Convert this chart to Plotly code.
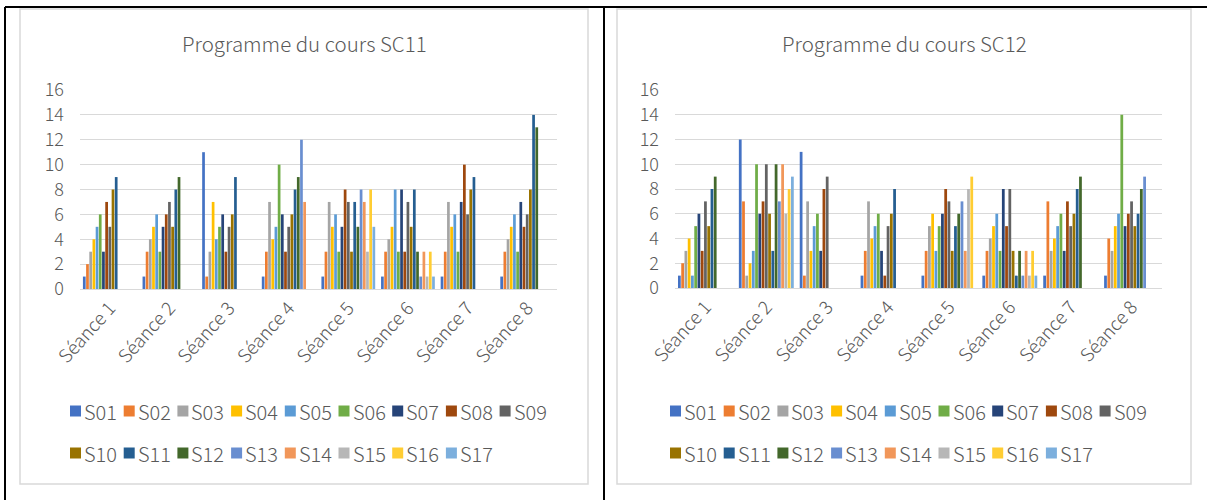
import plotly.graph_objects as go

W, H = 1207, 500

seances = ["Séance 1", "Séance 2", "Séance 3", "Séance 4",
           "Séance 5", "Séance 6", "Séance 7", "Séance 8"]
series = ["S01", "S02", "S03", "S04", "S05", "S06", "S07", "S08", "S09",
          "S10", "S11", "S12", "S13", "S14", "S15", "S16", "S17"]
colors = ["#4472C4", "#ED7D31", "#A5A5A5", "#FFC000", "#5B9BD5", "#70AD47",
          "#264478", "#9E480E", "#636363", "#997300", "#255E91", "#43682B",
          "#698ED0", "#F1975A", "#B7B7B7", "#FFCD33", "#7CAFDD"]
y_ticks = [0, 2, 4, 6, 8, 10, 12, 14, 16]

# one row per séance, one value per student S01..S17
sc11 = [
    [1, 2, 3, 4, 5, 6, 3, 7, 5, 8, 9, 0, 0, 0, 0, 0, 0],
    [1, 3, 4, 5, 6, 3, 5, 6, 7, 5, 8, 9, 0, 0, 0, 0, 0],
    [11, 1, 3, 7, 4, 5, 6, 3, 5, 6, 9, 0, 0, 0, 0, 0, 0],
    [1, 3, 7, 4, 5, 10, 6, 3, 5, 6, 8, 9, 12, 7, 0, 0, 0],
    [1, 3, 7, 5, 6, 3, 5, 8, 7, 3, 7, 5, 8, 7, 3, 8, 5],
    [1, 3, 4, 5, 8, 3, 8, 3, 7, 5, 8, 3, 1, 3, 1, 3, 1],
    [1, 3, 7, 5, 6, 3, 7, 10, 6, 8, 9, 0, 0, 0, 0, 0, 0],
    [1, 3, 4, 5, 6, 3, 7, 5, 6, 8, 14, 13, 0, 0, 0, 0, 0],
]
sc12 = [
    [1, 2, 3, 4, 1, 5, 6, 3, 7, 5, 8, 9, 0, 0, 0, 0, 0],
    [12, 7, 1, 2, 3, 10, 6, 7, 10, 6, 3, 10, 7, 10, 6, 8, 9],
    [11, 1, 7, 3, 5, 6, 3, 8, 9, 0, 0, 0, 0, 0, 0, 0, 0],
    [1, 3, 7, 4, 5, 6, 3, 1, 5, 6, 8, 0, 0, 0, 0, 0, 0],
    [1, 3, 5, 6, 3, 5, 6, 8, 7, 3, 5, 6, 7, 3, 8, 9, 0],
    [1, 3, 4, 5, 6, 3, 8, 5, 8, 3, 1, 3, 1, 3, 1, 3, 1],
    [1, 7, 3, 4, 5, 6, 3, 7, 5, 6, 8, 9, 0, 0, 0, 0, 0],
    [1, 4, 3, 5, 6, 14, 5, 6, 7, 5, 6, 8, 9, 0, 0, 0, 0],
]
titles = ["Programme du cours SC11", "Programme du cours SC12"]

FONT = "Noto Sans CJK SC, Noto Sans, sans-serif"
TXT = "#595959"
GRID = "#D9D9D9"


def px(x):
    return x / W


def py(y):
    return 1 - y / H


# pixel layout of each chart: frame box, plot area, legend origin
panels = [
    dict(frame=(20, 9, 588, 484), plot=(80, 90, 557, 289), legend_x=70),
    dict(frame=(617, 9, 1191, 484), plot=(675, 90, 1162, 288), legend_x=670),
]

fig = go.Figure()
shapes = []
annotations = []

for k, (data, title, pnl) in enumerate(zip([sc11, sc12], titles, panels)):
    xa = "x" if k == 0 else "x2"
    ya = "y" if k == 0 else "y2"
    for j, name in enumerate(series):
        fig.add_trace(go.Bar(
            x=seances, y=[row[j] for row in data], name=name,
            marker=dict(color=colors[j], line=dict(width=0)),
            xaxis=xa, yaxis=ya, showlegend=False,
        ))
    l, t, r, b = pnl["plot"]
    axis_x = dict(domain=[px(l), px(r)], anchor=ya, showgrid=False,
                  automargin=False,
                  showline=True, linecolor=GRID, linewidth=1,
                  ticks="", tickangle=-48,
                  tickfont=dict(family=FONT, size=18.5, color=TXT, weight=300))
    axis_y = dict(domain=[py(b), py(t)], anchor=xa, range=[0, 16],
                  automargin=False,
                  tickvals=y_ticks, showgrid=True, gridcolor=GRID,
                  gridwidth=1, zeroline=False, showline=False,
                  ticklabelstandoff=15,
                  tickfont=dict(family=FONT, size=18, color=TXT, weight=300))
    if k == 0:
        fig.update_layout(xaxis=axis_x, yaxis=axis_y)
    else:
        fig.update_layout(xaxis2=axis_x, yaxis2=axis_y)

    # chart frame
    fl, ft, fr, fb = pnl["frame"]
    shapes.append(dict(type="rect", xref="paper", yref="paper",
                       x0=px(fl), x1=px(fr), y0=py(fb), y1=py(ft),
                       line=dict(color=GRID, width=1.5), layer="below"))
    # title
    annotations.append(dict(text=title, xref="paper", yref="paper",
                            x=px((fl + fr) / 2), y=py(43),
                            xanchor="center", yanchor="middle",
                            showarrow=False,
                            font=dict(family=FONT, size=20.5, color=TXT,
                                      weight=300)))
    # legend: two rows, nine entries per row
    for j, name in enumerate(series):
        row, col = divmod(j, 9)
        x0 = pnl["legend_x"] + col * 53.7
        yc = 411 + row * 42
        shapes.append(dict(type="rect", xref="paper", yref="paper",
                           x0=px(x0), x1=px(x0 + 11),
                           y0=py(yc + 5.5), y1=py(yc - 5.5),
                           fillcolor=colors[j], line=dict(width=0)))
        annotations.append(dict(text=name, xref="paper", yref="paper",
                                x=px(x0 + 12), y=py(yc),
                                xanchor="left", yanchor="middle",
                                showarrow=False,
                                font=dict(family=FONT, size=20, color=TXT,
                                          weight=300)))

# surrounding table rules
for x0, y0, x1, y1 in [(5, 7, W, 7), (5, 7, 5, H), (604, 7, 604, H)]:
    shapes.append(dict(type="line", xref="paper", yref="paper",
                       x0=px(x0), x1=px(x1), y0=py(y0), y1=py(y1),
                       line=dict(color="black", width=2)))

fig.update_layout(
    width=W, height=H,
    margin=dict(l=0, r=0, t=0, b=0, autoexpand=False),
    paper_bgcolor="white", plot_bgcolor="white",
    barmode="group", bargap=0.09, bargroupgap=0.15,
    shapes=shapes, annotations=annotations,
    showlegend=False,
)

fig.write_html("out.html")
